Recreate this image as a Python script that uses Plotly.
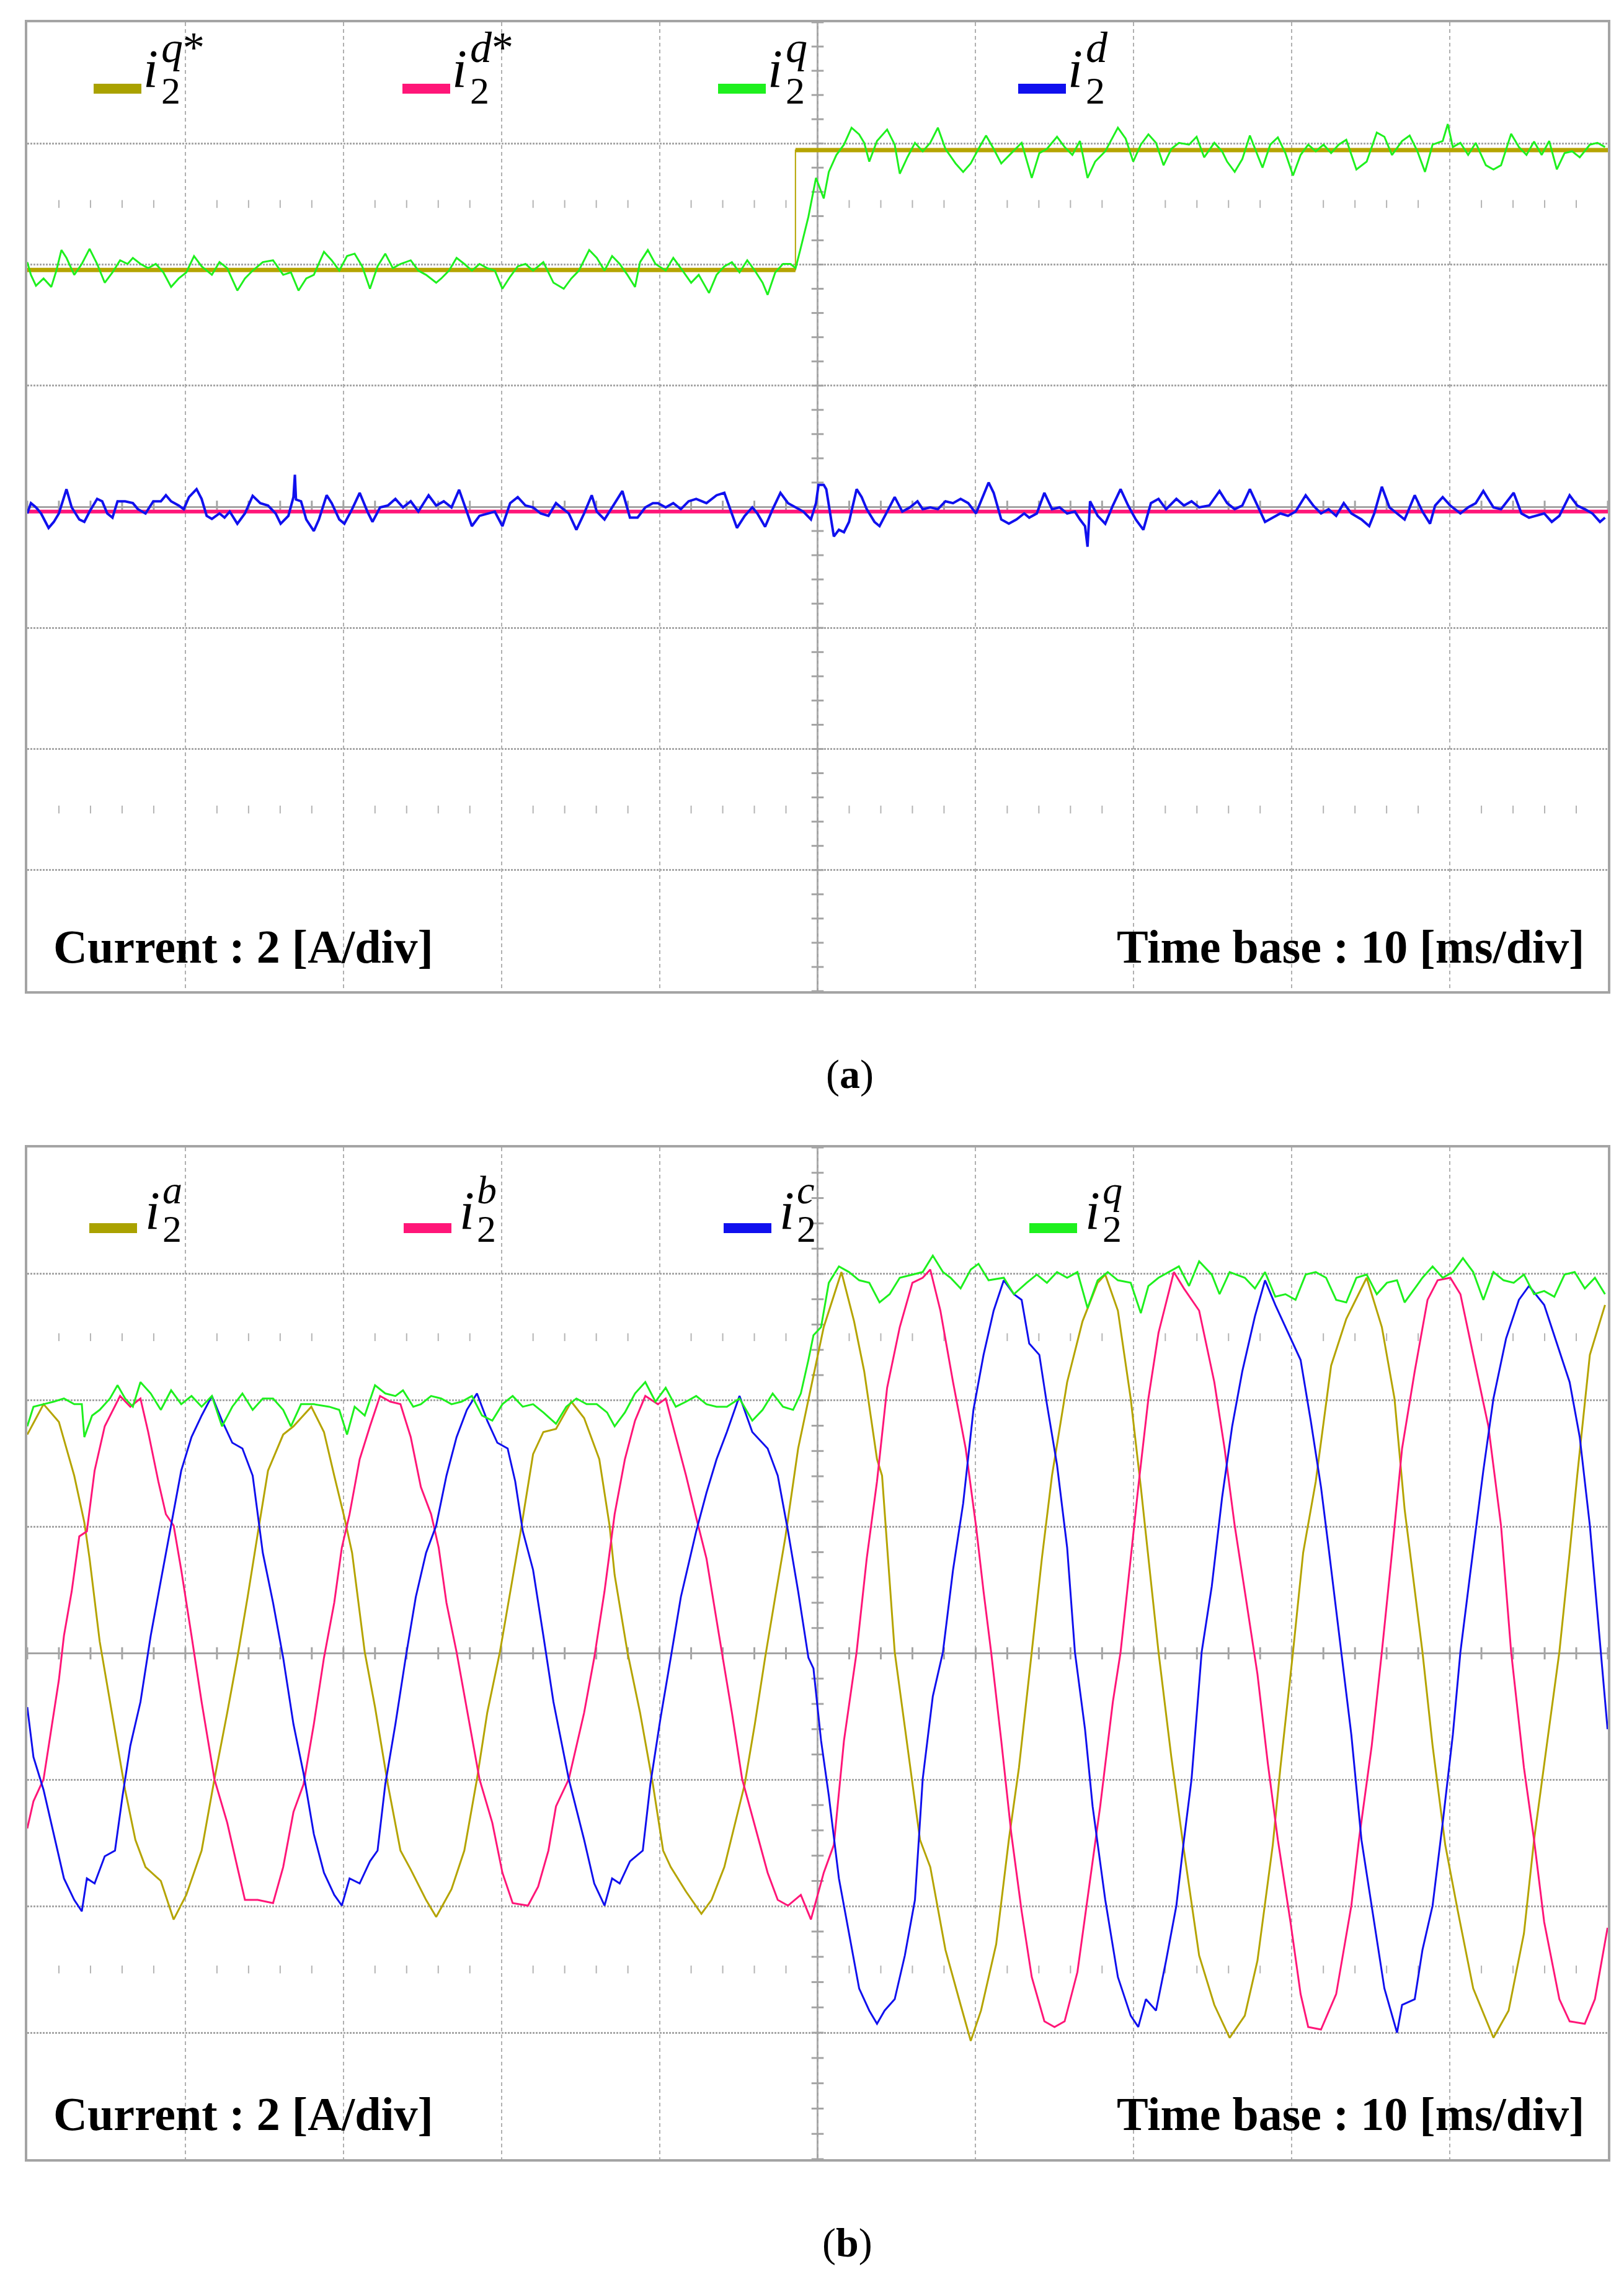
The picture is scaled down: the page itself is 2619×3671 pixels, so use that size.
import numpy as np
import plotly.graph_objects as go

W, H = 2619, 3671

# ------------------------------------------------------------------
# Panel (a): dq-axis currents  (time in ms, current in A)
# ------------------------------------------------------------------
a_qref_t = [0.0, 48.6, 48.6, 100.0]
a_qref_i = [3.91, 3.91, 5.89, 5.89]
a_dref_t = [0.0, 100.0]
a_dref_i = [-0.08, -0.08]

a_iq_t = [0.0,0.23,0.55,1.03,1.52,1.84,2.16,2.48,2.97,3.45,
          3.94,4.42,4.90,5.39,5.87,6.35,6.68,7.16,7.65,8.13,
          8.61,9.10,9.58,10.06,10.55,11.03,11.68,12.16,12.65,13.29,
          13.77,14.26,14.90,15.55,16.19,16.68,17.16,17.65,18.13,18.77,
          19.26,19.74,20.23,20.71,21.19,21.68,22.16,22.65,23.13,23.61,
          24.26,24.74,25.23,25.87,26.19,26.68,27.16,27.65,28.13,28.61,
          29.10,29.58,30.06,30.55,31.03,31.52,32.0,32.65,33.29,33.94,
          34.42,34.90,35.55,36.03,36.52,37.0,37.48,37.97,38.45,38.77,
          39.26,39.74,40.39,40.87,41.35,42.0,42.48,43.13,43.61,44.10,
          44.58,45.06,45.55,46.03,46.52,46.84,47.32,47.81,48.29,48.61,
          48.94,49.42,49.90,50.39,50.71,51.19,51.67,52.15,52.63,52.95,
          53.27,53.76,54.40,54.88,55.20,55.68,56.16,56.65,57.13,57.61,
          58.09,58.73,59.21,59.69,60.18,60.66,61.14,61.62,62.26,62.91,
          63.55,64.03,64.51,65.15,65.63,66.12,66.60,67.08,67.56,68.20,
          69.0,69.49,69.97,70.45,70.93,71.41,71.89,72.38,72.86,73.50,
          73.98,74.46,75.10,75.59,75.91,76.39,76.87,77.35,77.83,78.15,
          78.64,79.12,79.60,80.08,80.56,81.04,81.52,82.01,82.49,82.97,
          83.45,84.09,84.74,85.38,85.86,86.34,86.98,87.46,87.95,88.43,
          88.91,89.55,89.87,90.19,90.67,91.16,91.64,92.28,92.76,93.24,
          93.88,94.37,94.85,95.33,95.81,96.29,96.77,97.26,97.74,98.22,
          98.86,99.34,99.82]
a_iq = [4.04,3.83,3.65,3.77,3.63,3.90,4.24,4.11,3.83,4.01,
        4.26,4.01,3.70,3.87,4.07,4.01,4.11,4.01,3.94,4.01,
        3.87,3.63,3.77,3.87,4.14,3.97,3.83,4.04,3.94,3.57,
        3.77,3.90,4.04,4.07,3.83,3.87,3.57,3.77,3.83,4.21,
        4.07,3.90,4.14,4.18,3.97,3.60,3.97,4.18,3.94,4.01,
        4.07,3.90,3.83,3.70,3.77,3.90,4.11,4.01,3.90,4.01,
        3.94,3.90,3.60,3.80,3.97,4.01,3.90,4.04,3.70,3.60,
        3.77,3.90,4.24,4.11,3.90,4.14,4.01,3.83,3.63,4.04,
        4.24,4.01,3.90,4.11,3.94,3.70,3.83,3.53,3.83,3.97,
        4.04,3.87,4.07,3.90,3.70,3.50,3.87,4.01,4.01,3.94,
        4.28,4.79,5.43,5.09,5.53,5.81,5.98,6.26,6.15,6.01,
        5.70,6.04,6.23,5.98,5.50,5.77,6.01,5.87,6.01,6.26,
        5.91,5.67,5.53,5.67,5.91,6.13,5.91,5.67,5.84,6.01,
        5.43,5.84,5.91,6.11,5.94,5.81,6.04,5.43,5.70,5.87,
        6.26,6.08,5.70,5.98,6.15,6.01,5.64,5.91,6.01,5.98,
        6.11,5.77,6.01,5.87,5.70,5.53,5.74,6.13,5.81,5.60,
        5.98,6.10,5.84,5.47,5.81,5.98,5.87,5.98,5.84,5.98,
        6.06,5.57,5.70,6.18,6.11,5.81,6.04,6.13,5.87,5.53,
        5.98,6.04,6.32,5.94,6.01,5.81,6.01,5.64,5.57,5.64,
        6.16,5.94,5.81,6.03,5.81,6.04,5.57,5.84,5.87,5.77,
        5.98,6.01,5.94]

a_id_t = [0.0,0.23,0.55,0.87,1.35,1.68,2.0,2.32,2.48,2.81,
          3.29,3.61,3.94,4.42,4.74,5.06,5.39,5.71,6.19,6.68,
          7.0,7.48,7.97,8.45,8.77,9.10,9.58,9.90,10.23,10.71,
          11.03,11.35,11.68,12.16,12.48,12.81,13.29,13.77,14.26,14.74,
          15.23,15.71,16.03,16.52,16.84,16.93,17.0,17.32,17.65,18.13,
          18.45,18.94,19.26,19.74,20.06,20.55,21.03,21.52,21.84,22.32,
          22.81,23.29,23.77,24.26,24.74,25.39,25.87,26.35,26.84,27.32,
          27.81,28.13,28.61,29.10,29.58,30.06,30.55,31.03,31.52,32.0,
          32.48,32.97,33.45,33.77,34.26,34.74,35.23,35.71,36.03,36.52,
          37.0,37.65,38.13,38.61,39.10,39.58,39.90,40.39,40.87,41.35,
          41.84,42.32,42.97,43.61,44.10,44.58,44.90,45.39,45.87,46.19,
          46.68,47.16,47.65,48.13,48.61,49.10,49.58,49.90,50.06,50.39,
          50.55,50.87,51.03,51.35,51.67,51.99,52.47,52.79,53.11,53.60,
          53.92,54.40,54.88,55.36,55.84,56.32,56.65,57.13,57.61,58.09,
          58.57,59.05,59.53,60.02,60.34,60.82,61.14,61.62,62.10,62.58,
          63.07,63.39,63.87,64.35,64.83,65.31,65.79,66.28,66.60,66.92,
          67.08,67.24,67.72,68.20,68.68,69.17,69.65,70.13,70.61,71.09,
          71.57,72.05,72.70,73.18,73.66,74.14,74.78,75.43,75.91,76.39,
          76.87,77.35,77.83,78.31,78.80,79.28,79.76,80.24,80.88,81.36,
          81.85,82.33,82.81,83.29,83.77,84.41,84.90,85.22,85.70,86.18,
          86.66,87.14,87.78,88.27,88.75,89.07,89.55,90.03,90.67,91.16,
          91.64,92.12,92.76,93.24,94.04,94.53,95.01,95.49,95.97,96.45,
          96.93,97.58,98.06,98.54,99.02,99.50,99.82]
a_id = [-0.11,0.06,-0.01,-0.11,-0.35,-0.25,-0.11,0.16,0.29,-0.01,
        -0.21,-0.25,-0.08,0.13,0.09,-0.11,-0.18,0.09,0.09,0.06,
        -0.04,-0.11,0.09,0.09,0.19,0.09,0.02,-0.04,0.16,0.29,
        0.13,-0.15,-0.20,-0.11,-0.18,-0.08,-0.28,-0.11,0.18,0.06,
        0.02,-0.11,-0.28,-0.15,0.16,0.53,0.12,0.09,-0.21,-0.40,
        -0.21,0.19,0.06,-0.21,-0.28,-0.04,0.23,-0.08,-0.25,-0.01,
        0.02,0.13,-0.01,0.09,-0.08,0.19,0.02,0.09,-0.01,0.28,
        -0.08,-0.32,-0.15,-0.11,-0.08,-0.32,0.06,0.16,0.02,-0.01,
        -0.11,-0.15,0.06,-0.01,-0.11,-0.38,-0.11,0.19,-0.08,-0.21,
        -0.01,0.26,-0.18,-0.18,-0.01,0.06,0.06,-0.01,0.06,-0.04,
        0.09,0.13,0.06,0.19,0.23,-0.11,-0.35,-0.15,-0.01,-0.11,
        -0.33,-0.04,0.23,0.06,-0.01,-0.08,-0.21,0.06,0.36,0.36,
        0.29,-0.21,-0.49,-0.38,-0.42,-0.25,0.29,0.16,-0.04,-0.25,
        -0.32,-0.08,0.16,-0.08,-0.01,0.09,-0.04,-0.01,-0.04,0.09,
        0.06,0.13,0.06,-0.11,0.09,0.40,0.23,-0.21,-0.28,-0.21,
        -0.11,-0.18,-0.11,0.23,-0.04,-0.01,-0.11,-0.08,-0.21,-0.32,
        -0.66,0.09,-0.15,-0.28,0.02,0.29,0.02,-0.21,-0.38,0.06,
        0.13,-0.04,0.13,0.02,0.09,-0.01,0.02,0.26,0.06,-0.04,
        0.02,0.29,0.02,-0.25,-0.18,-0.11,-0.15,-0.08,0.19,0.02,
        -0.11,-0.04,-0.15,0.06,-0.11,-0.21,-0.32,-0.11,0.33,-0.01,
        -0.11,-0.21,0.19,-0.08,-0.28,0.02,0.16,0.02,-0.11,-0.01,
        0.06,0.26,-0.01,-0.04,0.23,-0.11,-0.18,-0.15,-0.11,-0.25,
        -0.15,0.19,0.02,-0.04,-0.11,-0.25,-0.18]

# ------------------------------------------------------------------
# Panel (b): phase currents and q-axis current
# ------------------------------------------------------------------
b_ia_t = [0.0,1.03,2.0,2.97,3.61,3.94,4.58,5.23,5.87,6.19,
          6.84,7.48,8.45,9.26,10.06,11.03,11.84,12.65,13.29,13.94,
          14.58,15.23,16.19,16.84,17.97,18.77,19.42,20.06,20.55,21.35,
          22.0,22.81,23.61,24.26,25.23,25.87,26.84,27.65,28.45,29.10,
          29.90,30.55,31.19,32.0,32.65,33.45,34.42,35.23,36.19,36.84,
          37.16,37.97,38.77,39.58,40.23,40.71,41.68,42.65,43.29,44.10,
          45.39,46.03,46.68,47.32,47.97,48.77,49.74,50.39,51.51,52.31,
          52.95,53.76,54.08,54.88,55.68,56.48,57.13,58.09,59.05,59.69,
          60.34,61.30,62.10,62.74,63.55,64.19,64.83,65.79,66.76,67.72,
          68.20,69.0,69.81,70.45,71.57,72.38,73.18,74.14,75.10,76.07,
          77.03,77.83,78.80,79.28,80.08,80.72,81.52,82.49,83.45,84.74,
          85.70,86.50,87.14,88.27,88.91,89.71,90.51,91.48,92.76,93.72,
          94.69,95.33,96.13,96.93,97.58,98.06,98.86,99.82]
b_ia = [3.46,3.94,3.66,2.81,2.07,1.50,0.19,-0.77,-1.73,-2.16,
        -2.95,-3.38,-3.60,-4.21,-3.82,-3.12,-1.99,-0.94,-0.07,0.89,
        1.89,2.89,3.46,3.59,3.90,3.50,2.81,2.15,1.59,0.02,
        -0.85,-2.07,-3.12,-3.42,-3.90,-4.17,-3.73,-3.12,-1.99,-0.94,
        0.02,0.98,1.89,3.15,3.50,3.55,3.98,3.72,3.07,2.02,
        1.24,0.02,-0.94,-2.07,-3.12,-3.38,-3.77,-4.12,-3.90,-3.38,
        -2.07,-1.12,-0.07,0.89,1.85,3.24,4.37,5.16,6.03,5.25,
        4.46,3.07,2.81,0.02,-1.46,-2.95,-3.38,-4.69,-5.56,-6.13,
        -5.65,-4.60,-2.95,-1.81,0.02,1.50,2.81,4.29,5.25,5.86,
        5.99,5.42,4.03,2.63,0.02,-1.64,-3.12,-4.78,-5.56,-6.08,
        -5.73,-4.86,-3.03,-1.81,0.02,1.59,2.72,4.55,5.29,5.94,
        5.16,4.03,2.28,0.02,-1.46,-3.03,-4.08,-5.30,-6.08,-5.65,
        -4.43,-2.95,-1.46,0.02,1.59,2.81,4.72,5.51]

b_ib_t = [0.0,0.39,1.03,1.35,2.0,2.32,2.81,3.29,3.77,4.26,
          4.90,5.87,6.52,7.16,7.65,8.29,8.77,9.26,9.74,10.39,
          11.03,11.84,12.65,13.29,13.77,14.58,15.55,16.19,16.84,17.48,
          18.13,18.77,19.42,19.90,20.39,21.03,21.68,22.32,22.97,23.61,
          24.26,24.90,25.55,26.03,26.52,27.16,27.97,28.61,29.42,30.06,
          30.71,31.68,32.32,32.97,33.45,34.26,35.23,35.87,36.52,37.16,
          37.81,38.45,39.10,39.90,40.39,41.03,41.68,42.32,42.97,43.77,
          44.58,45.23,46.19,46.84,47.48,48.13,48.94,49.58,50.39,51.03,
          51.67,52.47,53.11,53.76,54.40,55.20,56.0,56.65,57.13,57.77,
          58.57,59.37,60.02,60.50,60.98,61.62,62.26,62.91,63.55,64.35,
          64.99,65.63,66.44,67.24,67.88,68.68,69.17,69.81,70.29,70.93,
          71.57,72.54,73.18,74.14,75.10,75.75,76.39,77.03,77.83,78.48,
          79.12,79.92,80.56,81.04,81.85,82.81,83.77,84.25,85.06,85.70,
          86.34,86.98,87.78,88.59,89.23,90.03,90.67,91.48,92.44,93.24,
          93.88,94.69,95.33,95.97,96.93,97.58,98.54,99.18,99.98]
b_ib = [-2.77,-2.34,-1.99,-1.46,-0.42,0.28,0.98,1.85,1.93,2.89,
        3.59,4.07,3.90,4.03,3.50,2.72,2.20,2.02,1.32,0.28,
        -0.77,-1.99,-2.68,-3.38,-3.90,-3.90,-3.95,-3.38,-2.51,-2.07,
        -1.12,-0.07,0.80,1.67,2.20,3.07,3.59,4.07,3.98,3.94,
        3.42,2.63,2.20,1.67,0.80,0.02,-1.12,-1.99,-2.68,-3.47,
        -3.95,-3.99,-3.69,-3.12,-2.42,-1.99,-0.94,-0.07,0.98,2.20,
        3.07,3.68,4.07,3.94,4.03,3.42,2.81,2.15,1.50,0.28,
        -0.94,-1.99,-2.86,-3.47,-3.90,-3.99,-3.82,-4.21,-3.47,-3.03,
        -1.38,0.02,1.50,2.72,4.20,5.16,5.86,5.94,6.07,5.42,
        4.29,3.24,2.02,0.98,0.02,-1.38,-2.86,-4.08,-5.12,-5.82,
        -5.91,-5.82,-5.04,-3.56,-2.42,-0.77,0.02,1.50,2.63,4.03,
        5.07,6.03,5.77,5.42,4.29,3.24,2.02,0.98,-0.33,-1.73,
        -2.95,-4.25,-5.39,-5.91,-5.95,-5.39,-3.99,-2.95,-1.46,0.02,
        1.59,3.24,4.46,5.59,5.90,5.94,5.68,4.72,3.59,2.02,
        0.02,-1.81,-2.95,-4.25,-5.47,-5.82,-5.86,-5.47,-4.34]

b_ic_t = [0.0,0.39,1.03,1.68,2.32,2.97,3.45,3.77,4.26,4.90,
          5.55,6.03,6.52,7.16,7.81,8.45,9.10,9.74,10.39,11.03,
          11.68,12.32,12.97,13.61,14.26,14.90,15.55,16.19,16.84,17.48,
          18.13,18.77,19.42,19.90,20.39,21.03,21.68,22.16,22.65,23.29,
          23.94,24.58,25.23,25.87,26.52,27.16,27.81,28.45,29.10,29.74,
          30.39,30.87,31.35,32.0,32.65,33.29,34.26,35.23,35.87,36.52,
          37.0,37.48,38.13,38.94,39.42,40.06,40.71,41.35,42.32,42.97,
          43.61,44.26,45.06,45.87,46.84,47.48,48.13,48.77,49.42,49.74,
          50.22,50.71,51.35,51.99,52.63,53.27,53.76,54.24,54.88,55.52,
          56.16,56.65,57.29,57.93,58.57,59.21,59.86,60.50,61.14,61.78,
          62.42,62.91,63.39,64.03,64.51,65.15,65.79,66.28,66.92,67.40,
          68.20,69.0,69.81,70.29,70.77,71.41,72.05,72.70,73.18,73.66,
          74.30,74.94,75.59,76.23,76.87,77.67,78.31,78.96,79.60,80.56,
          81.20,81.85,82.33,83.13,83.77,84.41,85.22,85.86,86.66,86.98,
          87.78,88.27,88.91,89.55,90.19,90.67,91.32,92.12,92.76,93.56,
          94.37,95.01,95.97,96.77,97.58,98.22,98.86,99.34,99.98]
b_ic = [-0.85,-1.64,-2.16,-2.86,-3.56,-3.90,-4.08,-3.56,-3.64,-3.21,
        -3.12,-2.25,-1.46,-0.77,0.28,1.15,2.02,2.89,3.42,3.76,
        4.07,3.68,3.33,3.24,2.81,1.59,0.80,-0.07,-1.12,-1.90,
        -2.86,-3.47,-3.82,-3.99,-3.56,-3.64,-3.29,-3.12,-2.07,-1.12,
        -0.07,0.89,1.59,2.02,2.81,3.42,3.85,4.11,3.68,3.33,
        3.24,2.72,1.93,1.32,0.28,-0.77,-1.99,-2.95,-3.64,-3.99,
        -3.56,-3.64,-3.29,-3.12,-2.07,-1.03,-0.07,0.89,1.93,2.54,
        3.07,3.50,4.07,3.50,3.24,2.81,1.93,0.98,-0.07,-0.24,
        -1.38,-2.25,-3.56,-4.43,-5.30,-5.65,-5.86,-5.65,-5.47,-4.78,
        -3.90,-1.99,-0.68,0.02,1.32,2.37,3.85,4.72,5.42,5.90,
        5.68,5.59,4.90,4.72,3.94,2.98,1.67,0.02,-1.20,-2.42,
        -3.90,-5.12,-5.73,-5.91,-5.47,-5.65,-4.86,-3.99,-2.95,-1.99,
        0.02,1.06,2.46,3.59,4.46,5.33,5.90,5.51,5.16,4.64,
        3.68,2.63,1.67,0.02,-1.29,-2.95,-4.25,-5.30,-6.00,-5.56,
        -5.47,-4.69,-3.99,-2.68,-1.29,0.02,1.32,2.89,4.03,4.98,
        5.59,5.81,5.51,4.90,4.29,3.42,2.02,0.63,-1.20]

b_iq_t = [0.0,0.39,1.03,1.68,2.32,2.97,3.45,3.61,4.10,4.58,
          5.23,5.71,6.19,6.68,7.16,7.81,8.45,9.10,9.74,10.39,
          11.03,11.68,12.32,12.97,13.61,14.26,14.90,15.55,16.19,16.68,
          17.32,18.13,19.10,19.74,20.23,20.71,21.35,22.0,22.65,23.29,
          23.77,24.42,24.90,25.55,26.19,26.84,27.48,28.13,28.77,29.42,
          30.06,30.71,31.35,32.0,32.65,33.45,34.10,34.74,35.39,36.03,
          36.68,37.16,37.81,38.45,39.10,39.74,40.39,41.03,41.68,42.32,
          42.97,43.61,44.26,45.06,45.87,46.52,47.16,47.81,48.45,48.94,
          49.42,49.74,50.22,50.71,51.35,51.99,52.63,53.27,53.92,54.56,
          55.20,56.0,56.65,57.29,57.93,58.41,59.05,59.69,60.18,60.82,
          61.78,62.42,63.23,63.87,64.51,65.15,65.79,66.44,67.08,67.72,
          68.36,69.0,69.81,70.45,70.93,71.57,72.21,72.86,73.50,74.14,
          74.94,75.43,76.07,77.03,77.67,78.31,78.96,79.60,80.24,80.88,
          81.52,82.17,82.81,83.45,84.09,84.74,85.38,86.02,86.66,87.14,
          87.78,88.27,88.91,89.55,90.19,90.83,91.48,92.12,92.76,93.40,
          94.04,94.69,95.33,95.97,96.61,97.26,97.90,98.54,99.18,99.82]
b_iq = [3.59,3.90,3.94,3.98,4.03,3.94,3.94,3.42,3.76,3.85,
        4.03,4.24,4.03,3.90,4.29,4.11,3.85,4.16,3.94,4.07,
        3.90,4.07,3.59,3.90,4.11,3.85,4.03,4.03,3.85,3.59,
        3.94,3.94,3.90,3.85,3.46,3.90,3.76,4.24,4.11,4.07,
        4.16,3.90,3.94,4.07,4.03,3.94,3.98,4.07,3.76,3.68,
        3.94,4.07,3.90,3.94,3.81,3.63,3.90,4.03,3.94,3.94,
        3.81,3.59,3.81,4.11,4.29,3.98,4.20,3.90,3.98,4.07,
        3.94,3.90,3.90,4.03,3.68,3.85,4.11,3.90,3.85,4.11,
        4.64,5.03,5.16,5.86,6.12,6.03,5.90,5.86,5.55,5.68,
        5.94,5.99,6.03,6.29,6.03,5.94,5.77,6.07,6.16,5.90,
        5.94,5.68,5.86,5.99,5.86,6.03,5.94,6.03,5.46,5.90,
        6.03,5.90,5.86,5.38,5.81,5.94,6.03,6.12,5.81,6.20,
        5.99,5.68,6.03,5.94,5.77,6.03,5.64,5.68,5.59,5.99,
        6.03,5.94,5.59,5.55,5.94,5.99,5.68,5.86,5.90,5.55,
        5.77,5.94,6.12,5.94,6.03,6.25,6.03,5.59,6.03,5.90,
        5.86,5.99,5.68,5.73,5.64,5.99,6.03,5.77,5.94,5.68]

legend_a_sup = ["<i>q</i>*", "<i>d</i>*", "<i>q</i>", "<i>d</i>"]
legend_b_sup = ["<i>a</i>", "<i>b</i>", "<i>c</i>", "<i>q</i>"]
scale_label = "Current : 2 [A/div]"
time_label = "Time base : 10 [ms/div]"

# ------------------------------------------------------------------
OLIVE = "#b5a400"
OLIVE_LEG = "#aaa200"
PINK = "#ff1678"
GREEN = "#1ef01e"
BLUE = "#1010ee"
GRID = "#b0b0b0"
AXC = "#a4a4a4"
FONT = "Liberation Serif"


def px(x):
    return x / W


def py(y):
    return 1 - y / H


X0, X1 = 36, 2585
panels = {
    "a": dict(top=28, bot=1590, xa="x", ya="y"),
    "b": dict(top=1842, bot=3473, xa="x2", ya="y2"),
}

fig = go.Figure()


def add_line(t, v, color, width, xa, ya):
    fig.add_trace(go.Scatter(x=t, y=v, mode="lines", xaxis=xa, yaxis=ya,
                             line=dict(color=color, width=width),
                             hoverinfo="skip", showlegend=False))


# scope decorations (minor ticks on the centre cross and on +-2.5 div rows)
minor_t = np.arange(0, 100.001, 2.0)
minor_t_rows = np.array([t for t in minor_t if abs(t / 10 - round(t / 10)) > 1e-6])
for key, p in panels.items():
    xa, ya = p["xa"], p["ya"]
    fig.add_trace(go.Scatter(x=minor_t, y=np.zeros_like(minor_t), mode="markers",
                             xaxis=xa, yaxis=ya, hoverinfo="skip", showlegend=False,
                             marker=dict(symbol="line-ns", size=14,
                                         line=dict(color=AXC, width=3))))
    for yr in (5.0, -5.0):
        fig.add_trace(go.Scatter(x=minor_t_rows, y=np.full_like(minor_t_rows, yr),
                                 mode="markers", xaxis=xa, yaxis=ya, hoverinfo="skip",
                                 showlegend=False,
                                 marker=dict(symbol="line-ns", size=9,
                                             line=dict(color="#b4b4b4", width=2))))
    minor_i = np.arange(-8, 8.001, 0.4)
    fig.add_trace(go.Scatter(x=np.full_like(minor_i, 50.0), y=minor_i, mode="markers",
                             xaxis=xa, yaxis=ya, hoverinfo="skip", showlegend=False,
                             marker=dict(symbol="line-ew", size=14,
                                         line=dict(color=AXC, width=3))))

# panel (a) traces
add_line(a_qref_t, a_qref_i, OLIVE, 2, "x", "y")
seg_t, seg_i = [], []
for k in range(0, len(a_qref_t), 2):
    seg_t += [a_qref_t[k], a_qref_t[k + 1], None]
    seg_i += [a_qref_i[k], a_qref_i[k + 1], None]
add_line(seg_t, seg_i, OLIVE, 7, "x", "y")
add_line(a_iq_t, a_iq, GREEN, 3, "x", "y")
add_line(a_dref_t, a_dref_i, PINK, 6, "x", "y")
add_line(a_id_t, a_id, BLUE, 4, "x", "y")

# panel (b) traces
add_line(b_ia_t, b_ia, OLIVE, 3, "x2", "y2")
add_line(b_ib_t, b_ib, PINK, 3, "x2", "y2")
add_line(b_ic_t, b_ic, BLUE, 3, "x2", "y2")
add_line(b_iq_t, b_iq, GREEN, 3, "x2", "y2")

axis_common = dict(showticklabels=False, ticks="", showline=True, mirror=True,
                   linecolor=AXC, linewidth=4)
layout = dict(width=W, height=H, margin=dict(l=0, r=0, t=0, b=0),
              paper_bgcolor="white", plot_bgcolor="white", showlegend=False)
for key, p in panels.items():
    xname = "xaxis" if p["xa"] == "x" else "xaxis2"
    yname = "yaxis" if p["ya"] == "y" else "yaxis2"
    layout[xname] = dict(domain=[px(X0), px(X1)], range=[0, 100], dtick=10, tick0=0,
                         showgrid=True, gridcolor=GRID, gridwidth=2, griddash="6px,5px",
                         zeroline=False, anchor=p["ya"], **axis_common)
    layout[yname] = dict(domain=[py(p["bot"]), py(p["top"])], range=[-8, 8], dtick=2,
                         tick0=0, showgrid=True, gridcolor="#a6a6a6", gridwidth=3,
                         griddash="3px,2px", zeroline=True, zerolinecolor=AXC,
                         zerolinewidth=3, anchor=p["xa"], **axis_common)
fig.update_layout(**layout)

shapes = []
annotations = []
for key, p in panels.items():
    yd = p["ya"] + " domain"
    shapes.append(dict(type="line", xref=p["xa"], yref=yd, x0=50, x1=50, y0=0, y1=1,
                       line=dict(color=AXC, width=3), layer="below"))

# legends
leg_a_x = [143, 641, 1150, 1634]
leg_b_x = [136, 643, 1159, 1652]
cols_a = [OLIVE_LEG, PINK, GREEN, BLUE]
cols_b = [OLIVE_LEG, PINK, BLUE, GREEN]


def legend_item(x0, ybar, col, sup, di, dsub, base_i, base_sub, base_sup,
                s_i, s_sub, s_sup):
    shapes.append(dict(type="rect", xref="paper", yref="paper",
                       x0=px(x0), x1=px(x0 + 77), y0=py(ybar + 8), y1=py(ybar - 8),
                       fillcolor=col, line=dict(width=0)))
    annotations.append(dict(xref="paper", yref="paper", x=px(x0 + di),
                            y=py(base_i - 0.33 * s_i), xanchor="left", yanchor="middle",
                            text="<i>i</i>", showarrow=False,
                            font=dict(family=FONT, size=s_i, color="black")))
    annotations.append(dict(xref="paper", yref="paper", x=px(x0 + dsub),
                            y=py(base_sub - 0.33 * s_sub), xanchor="left",
                            yanchor="middle", text="2", showarrow=False,
                            font=dict(family=FONT, size=s_sub, color="black")))
    annotations.append(dict(xref="paper", yref="paper", x=px(x0 + dsub),
                            y=py(base_sup - 0.33 * s_sup), xanchor="left",
                            yanchor="middle", text=sup, showarrow=False,
                            font=dict(family=FONT, size=s_sup, color="black")))


for x0, c, s in zip(leg_a_x, cols_a, legend_a_sup):
    legend_item(x0, 135, c, s, 78, 107, 131, 158, 92, 86, 62, 70)
for x0, c, s in zip(leg_b_x, cols_b, legend_b_sup):
    legend_item(x0, 1972, c, s, 88, 116, 1972, 1993, 1932, 86, 62, 64)

for key, base in (("a", 1543), ("b", 3425)):
    annotations.append(dict(xref="paper", yref="paper", x=px(76), y=py(base - 25),
                            xanchor="left", yanchor="middle", showarrow=False,
                            text="<b>" + scale_label + "</b>",
                            font=dict(family=FONT, size=76, color="black")))
    annotations.append(dict(xref="paper", yref="paper", x=px(2549), y=py(base - 25),
                            xanchor="right", yanchor="middle", showarrow=False,
                            text="<b>" + time_label + "</b>",
                            font=dict(family=FONT, size=76, color="black")))

annotations.append(dict(xref="paper", yref="paper", x=px(1362), y=py(1724),
                        xanchor="center", yanchor="middle", showarrow=False,
                        text="(<b>a</b>)", font=dict(family=FONT, size=66, color="black")))
annotations.append(dict(xref="paper", yref="paper", x=px(1358), y=py(3608),
                        xanchor="center", yanchor="middle", showarrow=False,
                        text="(<b>b</b>)", font=dict(family=FONT, size=66, color="black")))

fig.update_layout(shapes=shapes, annotations=annotations)
fig.write_html("out.html")
